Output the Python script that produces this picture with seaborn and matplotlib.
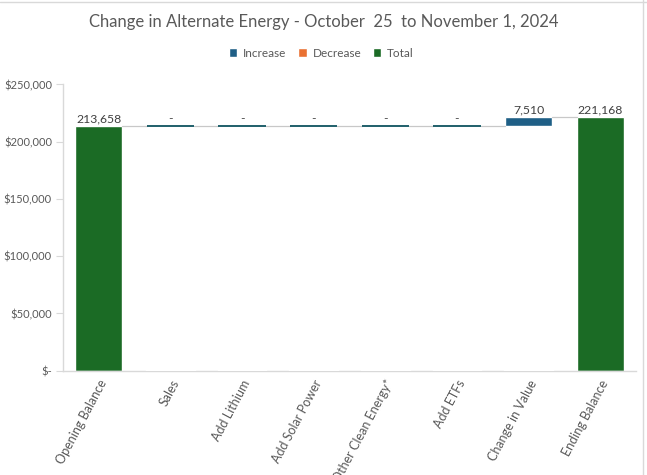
import numpy as np
import pandas as pd
import matplotlib
matplotlib.use("Agg")
import matplotlib.pyplot as plt
import matplotlib.ticker as mticker
from matplotlib.patches import Patch
import seaborn as sns

# ─── data ─────────────────────────────────────────────────────────────────────
categories = ["Opening Balance", "Sales", "Add Lithium", "Add Solar Power",
              "Other Clean Energy*", "Add ETFs", "Change in Value", "Ending Balance"]
kinds = ["Total", "Increase", "Increase", "Increase",
         "Increase", "Increase", "Increase", "Total"]
values = [213658, 0, 0, 0, 0, 0, 7510, 221168]
labels = ["213,658", "-", "-", "-", "-", "-", "7,510", "221,168"]
yticks = [0, 50000, 100000, 150000, 200000, 250000]

COLORS = {"Increase": "#1F5F86", "Decrease": "#E97132", "Total": "#1B6B25"}
TXT = "#595959"
AXC = "#D9D9D9"
BAR_W = 0.66

# waterfall bases / tops
bases, tops = [], []
running = 0
for k, v in zip(kinds, values):
    if k == "Total":
        bases.append(0)
        tops.append(v)
        running = v
    else:
        bases.append(running)
        running += v
        tops.append(running)

df = pd.DataFrame({"category": categories, "kind": kinds,
                   "base": bases, "top": tops, "value": values})

sns.set_style("white")
plt.rcParams["font.family"] = ["Lato", "DejaVu Sans"]

fig = plt.figure(figsize=(6.47, 4.75), dpi=100)
ax = fig.add_axes([0.0974, 0.2196, 0.8856, 0.6027])

sns.barplot(data=df, x="category", y="top", hue="kind", palette=COLORS,
            dodge=False, width=BAR_W, legend=False, ax=ax, zorder=2,
            saturation=1)
# hide the part under floating bars
sns.barplot(data=df[df["kind"] != "Total"], x="category", y="base",
            order=categories, color="white", width=BAR_W + 0.02,
            saturation=1, ax=ax, zorder=3)

# zero-change steps drawn as thin lines
for i, row in df.iterrows():
    if row["kind"] != "Total" and row["value"] == 0:
        ax.hlines(row["base"], i - BAR_W / 2, i + BAR_W / 2,
                  color="#1F5F6A", linewidth=1.4, zorder=5)

# connector lines
for i in range(len(df) - 1):
    ax.plot([i + BAR_W / 2, i + 1 - BAR_W / 2], [tops[i], tops[i]],
            color="#C8C8C8", linewidth=0.9, zorder=4)

# data labels
for i, row in df.iterrows():
    ax.text(i, row["top"] + 1500, labels[i], ha="center", va="bottom",
            fontsize=8.8, color="#404040", zorder=6)

ax.set_ylim(0, 250000)
ax.set_xlim(-0.5, len(categories) - 0.5)
ax.set_yticks(yticks)
ax.yaxis.set_major_formatter(
    mticker.FuncFormatter(lambda v, p: "$-" if v == 0 else f"${v:,.0f}"))
ax.set_xlabel("")
ax.set_ylabel("")
ax.tick_params(axis="y", length=5, color=AXC, labelsize=8, labelcolor=TXT,
               direction="out", left=True, pad=3)
ax.tick_params(axis="x", length=0, labelsize=9, labelcolor=TXT, pad=5)
plt.setp(ax.get_xticklabels(), rotation=62, ha="right", rotation_mode="anchor")
for s in ["top", "right"]:
    ax.spines[s].set_visible(False)
for s in ["left", "bottom"]:
    ax.spines[s].set_color(AXC)
    ax.spines[s].set_linewidth(1)

fig.suptitle("Change in Alternate Energy - October  25  to November 1, 2024",
             x=0.5, y=0.97, fontsize=12, color=TXT)

handles = [Patch(facecolor=COLORS[k]) for k in ["Increase", "Decrease", "Total"]]
fig.legend(handles, ["Increase", "Decrease", "Total"], loc="center",
           bbox_to_anchor=(0.497, 0.888), ncol=3, frameon=False, fontsize=8.5,
           labelcolor=TXT, handlelength=0.7, handleheight=0.7,
           handletextpad=0.5, columnspacing=1.0)

# chart frame edges
fig.add_artist(plt.Line2D([0, 1], [0.995, 0.995], color=AXC, linewidth=1,
                          transform=fig.transFigure))
fig.add_artist(plt.Line2D([0.994, 0.994], [0, 1], color=AXC, linewidth=1,
                          transform=fig.transFigure))

fig.savefig("out.png", dpi=100)
